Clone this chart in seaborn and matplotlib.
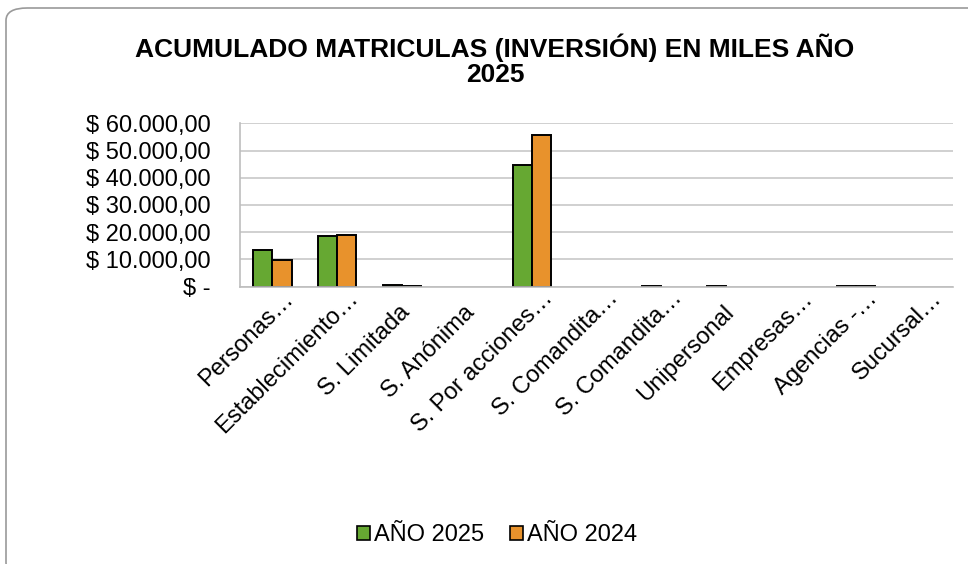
import matplotlib
matplotlib.use("Agg")
import matplotlib.pyplot as plt
import matplotlib.transforms as mtrans
import seaborn as sns
import pandas as pd
from matplotlib.patches import FancyBboxPatch, Patch
from matplotlib.ticker import FuncFormatter, MultipleLocator

categories = ["Personas…", "Establecimiento…", "S. Limitada", "S. Anónima",
              "S. Por acciones…", "S. Comandita…", "S. Comandita…", "Unipersonal",
              "Empresas…", "Agencias -…", "Sucursal…"]
cat_keys = [f"{i}" for i in range(len(categories))]
anio_2025 = [13500, 18500, 700, 0, 44800, 0, 150, 150, 0, 350, 0]
anio_2024 = [9700, 18900, 300, 0, 55800, 0, 0, 0, 0, 350, 0]
series = ["AÑO 2025", "AÑO 2024"]
colors = ["#66A832", "#E8922C"]
title = "ACUMULADO MATRICULAS (INVERSIÓN) EN MILES AÑO\n2025"

df = pd.DataFrame({
    "cat": cat_keys * 2,
    "val": anio_2025 + anio_2024,
    "serie": [series[0]] * len(cat_keys) + [series[1]] * len(cat_keys),
})

sns.set_theme(style="white")
plt.rcParams["font.family"] = ["Liberation Sans", "DejaVu Sans"]
plt.rcParams["text.color"] = "black"

fig = plt.figure(figsize=(9.68, 5.64), dpi=100)
ax = fig.add_axes([240/968, 1-286.7/564, (953-240)/968, (286.7-123.3)/564])

sns.barplot(data=df, x="cat", y="val", hue="serie", order=cat_keys,
            hue_order=series, palette=colors, saturation=1, width=0.59, gap=0,
            edgecolor="black", linewidth=1.4, ax=ax, legend=False)
for p in ax.patches:
    if p.get_height() == 0:
        p.set_linewidth(0)

ax.set_ylim(0, 60000)
ax.set_xlim(-0.5, len(categories) - 0.5)
ax.yaxis.set_major_locator(MultipleLocator(10000))

def fmt(v, pos):
    if v == 0:
        return "$ -"
    s = f"{v:,.2f}".replace(",", "X").replace(".", ",").replace("X", ".")
    return "$ " + s

ax.yaxis.set_major_formatter(FuncFormatter(fmt))
ax.grid(axis="y", color="#C8C8C8", linewidth=1.2)
ax.set_axisbelow(True)
for s in ["top", "right"]:
    ax.spines[s].set_visible(False)
for s in ["left", "bottom"]:
    ax.spines[s].set_color("#BDBDBD")
    ax.spines[s].set_linewidth(1.2)
ax.set_xlabel("")
ax.set_ylabel("")
ax.tick_params(axis="y", labelsize=17, pad=21, length=0, labelcolor="black")
ax.tick_params(axis="x", labelsize=17, pad=2, length=0, labelcolor="black")
ax.set_xticks(range(len(categories)))
ax.set_xticklabels(categories, rotation=45, ha="right", va="top",
                   rotation_mode="anchor")
for lab in ax.get_xticklabels():
    if lab.get_text().endswith("…"):
        off = mtrans.ScaledTranslation(10/100, 2/100, fig.dpi_scale_trans)
    else:
        off = mtrans.ScaledTranslation(-3/100, -12/100, fig.dpi_scale_trans)
    lab.set_transform(lab.get_transform() + off)

fig.text(495/968, 1-60/564, title, ha="center", va="center",
         fontsize=19, fontweight="bold", linespacing=1.05, color="black")

handles = [Patch(facecolor=c, edgecolor="black", linewidth=1.2) for c in colors]
fig.legend(handles, series, loc="center", bbox_to_anchor=(497/968, 1-535/564),
           ncol=2, frameon=False, fontsize=17, handlelength=0.55,
           handleheight=0.55, handletextpad=0.15, columnspacing=1.1,
           labelcolor="black")

border = FancyBboxPatch((6/968, 1-(575)/564), (1000-6)/968, (575-8)/564,
                        boxstyle="round,pad=0,rounding_size=0.022",
                        transform=fig.transFigure, fill=False,
                        edgecolor="#9A9A9A", linewidth=1.2, clip_on=False)
fig.patches.append(border)

fig.savefig("out.png", dpi=100)
